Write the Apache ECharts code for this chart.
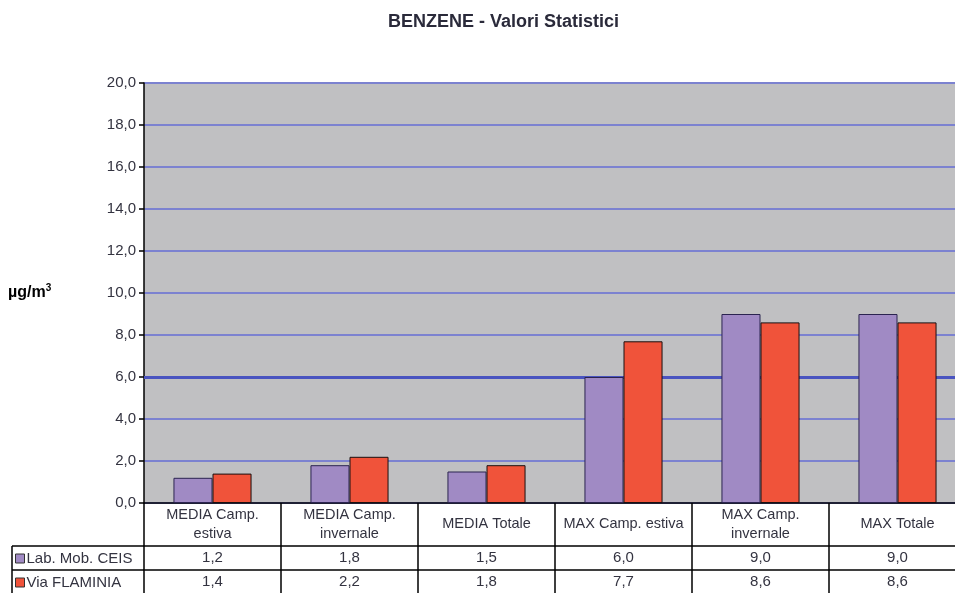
<!DOCTYPE html>
<html>
<head>
<meta charset="utf-8">
<script src="https://cdn.jsdelivr.net/npm/echarts@6/dist/echarts.min.js"></script>
<style>
  html, body { margin: 0; padding: 0; background: #ffffff; }
  #main { width: 955px; height: 593px; }
</style>
</head>
<body>
<div id="main"></div>
<script>
// Benzene statistics: two monitoring stations, six statistics
const categories = ['MEDIA Camp.\nestiva', 'MEDIA Camp.\ninvernale', 'MEDIA Totale',
                    'MAX Camp. estiva', 'MAX Camp.\ninvernale', 'MAX Totale'];
const seriesNames = ['Lab. Mob. CEIS', 'Via FLAMINIA'];
const labMobCeis = [1.2, 1.8, 1.5, 6.0, 9.0, 9.0];
const viaFlaminia = [1.4, 2.2, 1.8, 7.7, 8.6, 8.6];
const yMin = 0, yMax = 20, yStep = 2;
const emphasisLevel = 6;   // gridline drawn heavier

const fmt = v => v.toFixed(1).replace('.', ',');
const FONT = '"Liberation Sans", Arial, sans-serif';
const TXT = '#333340';

// Plot frame; the last column runs past the right edge of the page
const gridLeft = 144, gridTop = 83, gridHeight = 420, gridWidth = 822;
const axisY = gridTop + gridHeight;
// Data table rows under the plot
const rowHead = 43, rowData = 24;

const chart = echarts.init(document.getElementById('main'));

const valueAxis = (offset, values) => ({
  type: 'category',
  gridIndex: 0,
  position: 'bottom',
  offset: offset,
  data: values.map(fmt),
  axisLine: { show: true, lineStyle: { color: '#000', width: 1.5 } },
  axisTick: { show: false },
  axisLabel: {
    interval: 0, margin: 12, verticalAlign: 'middle',
    fontFamily: FONT, fontSize: 15, color: TXT
  }
});

chart.setOption({
  animation: false,
  backgroundColor: '#ffffff',
  title: {
    text: 'BENZENE - Valori Statistici',
    left: 383, top: 8,
    textStyle: { fontFamily: FONT, fontSize: 18, fontWeight: 'bold', color: '#2a2a3a' }
  },
  legend: {
    orient: 'vertical',
    left: 15, top: 551,
    itemWidth: 9, itemHeight: 9, itemGap: 9,
    icon: 'rect',
    padding: 0,
    data: seriesNames,
    itemStyle: { borderColor: '#333', borderWidth: 1 },
    textStyle: { fontFamily: FONT, fontSize: 15, color: TXT, padding: [0, 0, 0, -3] }
  },
  grid: {
    left: gridLeft, top: gridTop, width: gridWidth, height: gridHeight,
    outerBoundsMode: 'none',
    show: true, backgroundColor: '#c0c0c2', borderWidth: 0
  },
  xAxis: [
    {
      type: 'category',
      data: categories,
      axisLine: { show: true, lineStyle: { color: '#000', width: 1.5 } },
      axisTick: { show: true, interval: 0, length: 91, lineStyle: { color: '#000', width: 1.5 } },
      axisLabel: {
        interval: 0, margin: 21, verticalAlign: 'middle', lineHeight: 19,
        fontFamily: FONT, fontSize: 14.5, color: TXT, align: 'center'
      }
    },
    valueAxis(rowHead, labMobCeis),
    valueAxis(rowHead + rowData, viaFlaminia)
  ],
  yAxis: {
    type: 'value',
    min: yMin, max: yMax, interval: yStep,
    axisLine: { show: true, lineStyle: { color: '#000', width: 1.5 } },
    axisTick: { show: true, length: 5, lineStyle: { color: '#000', width: 1.5 } },
    axisLabel: { formatter: fmt, margin: 8, fontFamily: FONT, fontSize: 15, color: TXT },
    splitLine: { show: true, lineStyle: { color: '#7c82d0', width: 2 } }
  },
  series: [
    {
      name: seriesNames[0], type: 'bar', data: labMobCeis,
      barGap: '0%', barCategoryGap: '43%',
      itemStyle: { color: '#a08ac4', borderColor: '#2b2450', borderWidth: 1 },
      markLine: {
        silent: true, symbol: 'none', label: { show: false },
        lineStyle: { color: '#4a54c0', width: 3, type: 'solid' },
        data: [{ yAxis: emphasisLevel }],
        z: 1
      }
    },
    {
      name: seriesNames[1], type: 'bar', data: viaFlaminia,
      itemStyle: { color: '#f0533a', borderColor: '#1a1010', borderWidth: 1 }
    }
  ],
  graphic: [
    // left column of the data table (series key)
    { type: 'line', shape: { x1: 12, y1: axisY + rowHead, x2: gridLeft, y2: axisY + rowHead },
      style: { stroke: '#000', lineWidth: 1.5 } },
    { type: 'line', shape: { x1: 12, y1: axisY + rowHead + rowData, x2: gridLeft, y2: axisY + rowHead + rowData },
      style: { stroke: '#000', lineWidth: 1.5 } },
    { type: 'line', shape: { x1: 12, y1: axisY + rowHead, x2: 12, y2: 593 },
      style: { stroke: '#000', lineWidth: 1.5 } },
    // unit label
    {
      type: 'text', left: 8, top: 283,
      style: {
        text: '{u|µg/m}{s|3}',
        rich: {
          u: { fontFamily: FONT, fontSize: 16, fontWeight: 'bold', color: '#2a2a40' },
          s: { fontFamily: FONT, fontSize: 10, fontWeight: 'bold', color: '#2a2a40', padding: [0, 0, 10, 0] }
        }
      }
    }
  ]
});
</script>
</body>
</html>
